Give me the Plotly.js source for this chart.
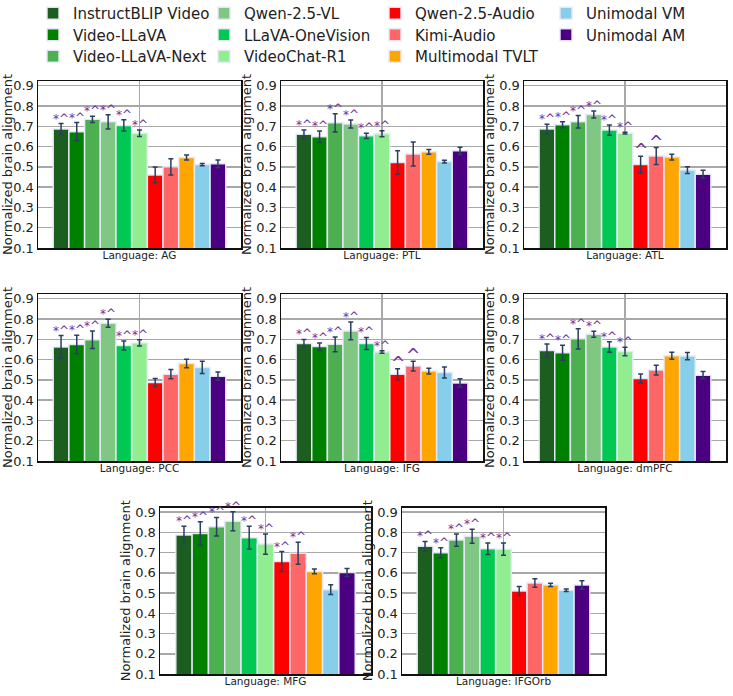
<!DOCTYPE html>
<html>
<head>
<meta charset="utf-8">
<script src="https://cdn.plot.ly/plotly-3.0.1.min.js"></script>
<style>html,body{margin:0;padding:0;background:#fff;}#chart{width:733px;height:696px;}</style>
</head>
<body>
<div id="chart"></div>
<script>
// ---------- data ----------
const models = ["InstructBLIP Video","Video-LLaVA","Video-LLaVA-Next","Qwen-2.5-VL","LLaVA-OneVision","VideoChat-R1","Qwen-2.5-Audio","Kimi-Audio","Multimodal TVLT","Unimodal VM","Unimodal AM"];
const colors = ["#1b5e20","#008000","#4caf50","#81c784","#00c853","#90ee90","#ff0000","#ff6666","#ffa500","#87ceeb","#4b0082"];
const regions = ["AG","PTL","ATL","PCC","IFG","dmPFC","MFG","IFGOrb"];

const val_AG = [0.686,0.673,0.734,0.722,0.704,0.666,0.460,0.500,0.546,0.511,0.515];
const err_AG = [0.027,0.045,0.015,0.035,0.028,0.016,0.039,0.040,0.012,0.006,0.019];
const sig_AG = ["*^","*^","*^","*^","*^","*^","","","","",""];

const val_PTL = [0.660,0.648,0.717,0.711,0.653,0.663,0.521,0.563,0.574,0.526,0.579];
const err_PTL = [0.022,0.028,0.045,0.020,0.013,0.015,0.058,0.059,0.012,0.007,0.018];
const sig_PTL = ["*^","*^","*^","*^","*^","*^","","","","",""];

const val_ATL = [0.686,0.707,0.722,0.758,0.681,0.666,0.511,0.553,0.548,0.484,0.464];
const err_ATL = [0.024,0.015,0.031,0.017,0.025,0.004,0.041,0.042,0.014,0.017,0.019];
const sig_ATL = ["*^","*^","*^","*^","*^","*^","^","^","","",""];

const val_PCC = [0.662,0.674,0.698,0.779,0.669,0.682,0.487,0.528,0.581,0.561,0.518];
const err_PCC = [0.056,0.046,0.043,0.020,0.022,0.015,0.020,0.023,0.021,0.030,0.020];
const sig_PCC = ["*^","*^","*^","*^","*^","*^","","","","",""];

const val_IFG = [0.679,0.664,0.675,0.741,0.679,0.637,0.528,0.568,0.543,0.536,0.485];
const err_IFG = [0.020,0.018,0.036,0.044,0.030,0.006,0.027,0.024,0.014,0.027,0.020];
const sig_IFG = ["*^","*^","*^","*^","*^","*^","^","^","","",""];

const val_dmPFC = [0.645,0.634,0.702,0.725,0.662,0.640,0.507,0.548,0.619,0.617,0.523];
const err_dmPFC = [0.031,0.037,0.050,0.015,0.026,0.021,0.022,0.024,0.017,0.018,0.018];
const sig_dmPFC = ["*^","*^","*^","*^","*^","*^","","","","",""];

const val_MFG = [0.787,0.794,0.828,0.855,0.774,0.742,0.656,0.697,0.607,0.517,0.602];
const err_MFG = [0.043,0.059,0.046,0.047,0.056,0.050,0.049,0.054,0.012,0.024,0.020];
const sig_MFG = ["*^","*^","*^","*^","*^","*^","*^","*^","","",""];

const val_IFGOrb = [0.731,0.699,0.762,0.781,0.719,0.717,0.510,0.550,0.540,0.514,0.540];
const err_IFGOrb = [0.024,0.025,0.030,0.035,0.028,0.030,0.022,0.021,0.008,0.006,0.021];
const sig_IFGOrb = ["*^","*^","*^","*^","*^","*^","","","","",""];

const values = [val_AG,val_PTL,val_ATL,val_PCC,val_IFG,val_dmPFC,val_MFG,val_IFGOrb];
const errors = [err_AG,err_PTL,err_ATL,err_PCC,err_IFG,err_dmPFC,err_MFG,err_IFGOrb];
const sigs = [sig_AG,sig_PTL,sig_ATL,sig_PCC,sig_IFG,sig_dmPFC,sig_MFG,sig_IFGOrb];

// ---------- layout geometry (pixels in 733x696 canvas) ----------
const W = 733, H = 696;
const panelBoxes = [ // [left, right, top, bottom]
  [38,241,81,248],[281,483,81,248],[524,726,81,248],
  [38,241,294,461],[281,483,294,461],[524,726,294,461],
  [160,371,507.5,674],[402,605,507.5,674]
];
// legend placement: column left edge and row top (px) for each model entry
const legendColLeft = [33,33,33,204,204,204,375,375,375,546,546];
const legendRowTop = [-3,18.5,40,-3,18.5,40,-3,18.5,40,-3,18.5];

const FONT = "DejaVu Sans, Verdana, sans-serif";
const bargap = 0.15;
const groupW = 1 - bargap;
const nM = models.length;

const traces = [];
const annotations = [];
const layout = {
  width: W, height: H,
  margin: {l:0, r:0, t:0, b:0, pad:0, autoexpand:false},
  paper_bgcolor: "#fff", plot_bgcolor: "#fff",
  barmode: "group", bargap: bargap, bargroupgap: 0,
  font: {family: FONT, size: 13, color: "#222"},
  showlegend: true,
  annotations: annotations
};

const legendId = i => (i === 0 ? "legend" : "legend" + (i+1));
models.forEach((m, i) => {
  layout[legendId(i)] = {
    x: legendColLeft[i]/W, xanchor: "left",
    y: 1 - legendRowTop[i]/H, yanchor: "top",
    orientation: "v", tracegroupgap: 0,
    bgcolor: "rgba(0,0,0,0)",
    font: {family: FONT, size: 15, color: "#222"}
  };
});

regions.forEach((reg, k) => {
  const ax = k === 0 ? "" : String(k+1);
  const [l, r, t, b] = panelBoxes[k];
  layout["xaxis"+ax] = {
    domain: [l/W, r/W], anchor: "y"+ax, type: "category",
    showticklabels: false, ticks: "", ticklen: 0, automargin: true,
    showgrid: true, gridcolor: "#a8a8a8", gridwidth: 1.5,
    showline: true, linecolor: "#111", linewidth: 1.5, mirror: true,
    title: {text: "Language: " + reg, font: {family: FONT, size: 10.5, color: "#222"}, standoff: 3},
    fixedrange: true
  };
  layout["yaxis"+ax] = {
    domain: [1 - b/H, 1 - t/H], anchor: "x"+ax,
    range: [0.1, 0.923], tick0: 0.1, dtick: 0.1, tickformat: ".1f",
    showgrid: true, gridcolor: "#a8a8a8", gridwidth: 1.5, zeroline: false,
    showline: true, linecolor: "#111", linewidth: 1.5, mirror: true,
    ticks: "", ticklen: 0, automargin: true, tickfont: {family: FONT, size: 13, color: "#222"},
    title: {text: "Normalized brain alignment", font: {family: FONT, size: 13, color: "#222"}, standoff: 1},
    fixedrange: true
  };
  models.forEach((m, i) => {
    traces.push({
      type: "bar", name: m, x: [reg], y: [values[k][i]],
      xaxis: "x"+ax, yaxis: "y"+ax,
      marker: {color: colors[i], line: {color: "rgba(232,232,248,0.95)", width: 1.5}},
      error_y: {type: "data", array: [errors[k][i]], visible: true, color: "#2a3f5f", thickness: 1.5, width: 2.5},
      legendgroup: m, showlegend: k === 0, legend: legendId(i),
      hoverinfo: "skip"
    });
    const s = sigs[k][i];
    if (s) {
      annotations.push({
        xref: "x"+ax, yref: "y"+ax,
        x: -groupW/2 + (i + 0.5) * groupW / nM,
        y: values[k][i] + errors[k][i],
        text: s, showarrow: false, xanchor: "center", yanchor: "bottom",
        yshift: s === "^" ? -6 : -4,
        font: {family: FONT, size: s === "^" ? 17 : 12, color: "#7030a0"}
      });
    }
  });
});

Plotly.newPlot("chart", traces, layout, {staticPlot: true, displayModeBar: false});
</script>
</body>
</html>
